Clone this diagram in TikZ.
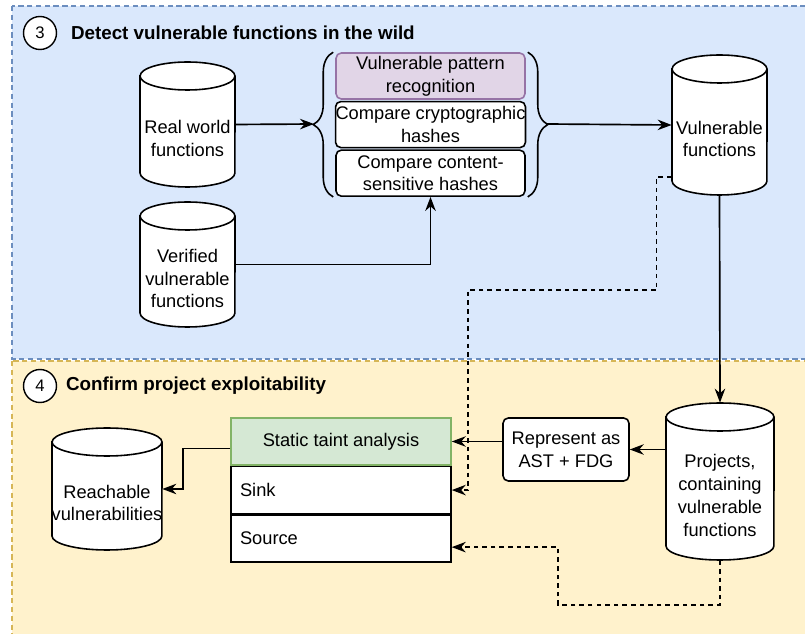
\documentclass[tikz,border=0pt]{standalone}
\usepackage{fontspec}
\setmainfont{Liberation Sans}
\usetikzlibrary{positioning,arrows.meta,decorations.pathreplacing}
\definecolor{bluefill}{HTML}{DAE8FC}
\definecolor{blueline}{HTML}{6C8EBF}
\definecolor{yellowfill}{HTML}{FFF2CC}
\definecolor{yellowline}{HTML}{D6B656}
\definecolor{purplefill}{HTML}{E1D5E7}
\definecolor{purpleline}{HTML}{9673A6}
\definecolor{greenfill}{HTML}{D5E8D4}
\definecolor{greenline}{HTML}{82B366}
\tikzset{
  txt/.style={align=center,font=\fontsize{10.4}{13}\selectfont,inner sep=0pt},
  panel/.style={dashed,dash pattern=on 3pt off 2pt,line width=0.7pt},
  num/.style={circle,draw,fill=white,minimum size=0.66cm,inner sep=0pt,line width=0.8pt,font=\fontsize{9.5}{10}\selectfont},
  title/.style={inner sep=0pt,font=\fontsize{10.7}{13}\selectfont\bfseries},
  dbline/.style={draw=black,fill=white,line width=0.9pt},
  box/.style={txt,draw,fill=white,rounded corners=3pt,line width=0.9pt,minimum width=3.78cm,minimum height=0.92cm},
  cell/.style={txt,draw,fill=white,line width=0.9pt,minimum width=4.4cm,minimum height=0.94cm,inner xsep=0.18cm},
  curly/.style={decorate,decoration={brace,amplitude=0.4cm},line width=0.9pt},
  arr/.style={-{Stealth[length=0.28cm,width=0.21cm]},line width=0.95pt},
  dashline/.style={dash pattern=on 2.6pt off 2.3pt}
}
\def\capr{14}
% cylinder: name, left, top, width, height, text
\newcommand{\dbshape}[6]{%
  \filldraw[dbline] (#2,#3+\capr) -- (#2,#3+#5-\capr)
    arc[start angle=180,end angle=360,x radius=#4*0.01cm,y radius=\capr*0.02cm]
    -- (#2+#4,#3+\capr)
    arc[start angle=0,end angle=180,x radius=#4*0.01cm,y radius=\capr*0.02cm] -- cycle;
  \draw[dbline,fill=none] (#2,#3+\capr) arc[start angle=180,end angle=360,x radius=#4*0.01cm,y radius=\capr*0.02cm];
  \node[inner sep=0pt,minimum width=#4*0.02cm,minimum height=#5*0.02cm] (#1) at (#2+#4/2,#3+#5/2) {};
  \node[txt] (#1-t) at (#2+#4/2,#3+#5/2+\capr) {#6};
}
\begin{document}
\begin{tikzpicture}[x=0.02cm,y=-0.02cm]
  \clip (0,0) rectangle (805,634);
  \draw[panel,draw=blueline,fill=bluefill] (12,6) rectangle (820,359);
  \draw[panel,draw=yellowline,fill=yellowfill] (12,361) rectangle (820,650);
  \node[num] (n3) at (40,33) {3};
  \node[title,right=0.27cm of n3] (t3) {Detect vulnerable functions in the wild};
  \node[num] (n4) at (40,386) {4};
  \node[title,right=0.17cm of n4] (t4) {Confirm project exploitability};

  % step 3
  \dbshape{rw}{140}{62}{95}{125}{Real world\\functions}
  \dbshape{vvf}{140}{202}{95}{125}{Verified\\vulnerable\\functions}
  \dbshape{vf}{672}{55}{95}{140}{Vulnerable\\functions}
  \node[box,fill=purplefill,draw=purpleline] (vpr) at (430.5,76) {Vulnerable pattern\\recognition};
  \node[box,below=0.02cm of vpr] (cch) {Compare cryptographic\\hashes};
  \node[box,below=0.02cm of cch] (csh) {Compare content-\\sensitive hashes};
  \draw[curly] ([xshift=-0.04cm]csh.south west) -- ([xshift=-0.04cm]vpr.north west);
  \draw[curly] ([xshift=0.04cm]vpr.north east) -- ([xshift=0.04cm]csh.south east);
  \coordinate (lb) at (314,124);
  \coordinate (rb) at (547,124);
  \draw[arr] (rw.east) -- (lb);
  \draw[arr] (rb) -- (vf.west);
  \draw[arr] (vvf.east) -| (csh.south);

  % step 4
  \dbshape{proj}{666}{403}{108}{157}{Projects,\\containing\\vulnerable\\functions}
  \dbshape{reach}{52}{428}{110}{122}{Reachable\\vulnerabilities}
  \node[box,minimum width=2.52cm,minimum height=1.26cm] (rep) at (566,449.5) {Represent as\\AST + FDG};
  \node[cell,fill=greenfill,draw=greenline] (sta) at (341,441.5) {Static taint analysis};
  \node[cell,text width=4.04cm,align=left,below=0pt of sta] (sink) {Sink};
  \node[cell,text width=4.04cm,align=left,below=0pt of sink] (src) {Source};

  \draw[arr] (vf.south) -- (proj.north);
  \draw[arr] (proj.west |- rep.east) -- (rep.east);
  \draw[arr] (rep.west |- sta.east) -- (sta.east);
  \draw[arr] ([yshift=-0.14cm]sta.west) -- ++(-47,0) |- (reach.east);
  \draw[arr,dashline] ([yshift=-1.04cm]vf.west) -- ++(-15,0) |- (468,290) |- (sink.east);
  \draw[arr,dashline] (proj.south) |- (558,605) |- ([yshift=-0.17cm]src.east);
\end{tikzpicture}
\end{document}
